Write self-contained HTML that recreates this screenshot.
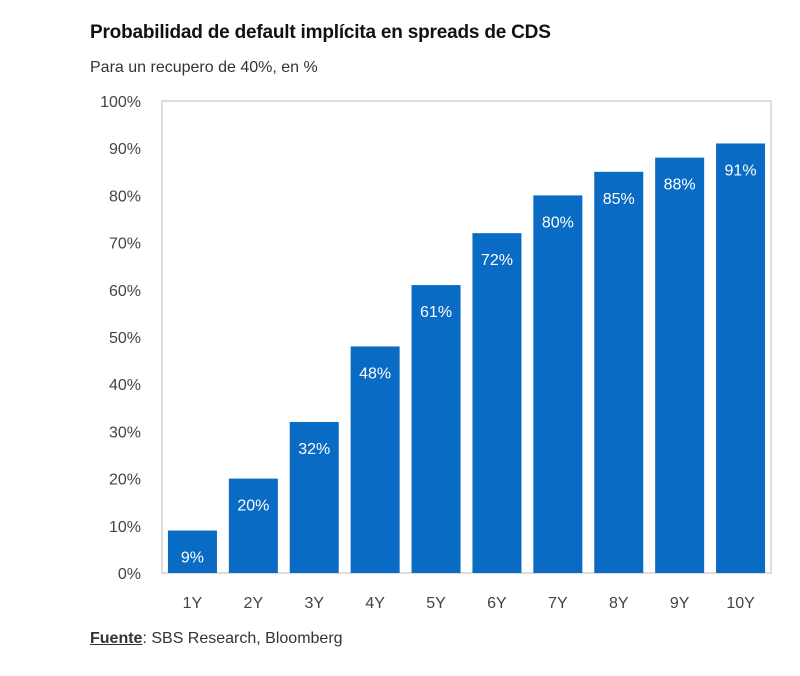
<!DOCTYPE html>
<html><head><meta charset="utf-8"><style>
body{margin:0;background:#fff;font-family:"Liberation Sans",sans-serif;}
#wrap{position:relative;width:800px;height:676px;background:#fff;}
.t{position:absolute;white-space:nowrap;}
</style></head><body>
<div id="wrap">
<div class="t" style="left:90px;top:22px;font-size:19px;font-weight:bold;color:#111;letter-spacing:-0.2px;">Probabilidad de default implícita en spreads de CDS</div>
<div class="t" style="left:90px;top:59px;font-size:16px;color:#333;">Para un recupero de 40%, en %</div>
<svg id="chart" width="800" height="676" style="position:absolute;left:0;top:0"></svg>
<div class="t" style="left:90px;top:630px;font-size:16px;color:#333;"><span style="text-decoration:underline;font-weight:bold;">Fuente</span>: SBS Research, Bloomberg</div>
</div>
<script>
const categories=["1Y","2Y","3Y","4Y","5Y","6Y","7Y","8Y","9Y","10Y"];
const values=[9,20,32,48,61,72,80,85,88,91];
const yTicks=[0,10,20,30,40,50,60,70,80,90,100];
const NS="http://www.w3.org/2000/svg";
const svg=document.getElementById('chart');
const L=162,R=771,T=101,B=573;
const y=v=>B-(v/100)*(B-T);
const step=(R-L)/categories.length, bw=49;
const x=i=>L+i*step+(step-bw)/2;
function mk(t,a){const e=document.createElementNS(NS,t);for(const k in a)e.setAttribute(k,a[k]);svg.appendChild(e);return e;}
const frame=mk('rect',{x:L,y:T,width:R-L,height:B-T,fill:'none',stroke:'#ddd','stroke-width':2});


yTicks.forEach(v=>{const t=mk('text',{x:141,y:y(v)+6,'text-anchor':'end','font-size':16,fill:'#444','font-family':'Liberation Sans, sans-serif'});t.textContent=v+'%';

});
categories.forEach((c,i)=>{
const r=mk('rect',{x:x(i),y:y(values[i]),width:bw,height:B-y(values[i]),fill:'#0a6bc4'});


const lb=mk('text',{x:x(i)+bw/2,y:y(values[i])+32,'text-anchor':'middle','font-size':16,fill:'#fff','font-family':'Liberation Sans, sans-serif'});lb.textContent=values[i]+'%';


const xl=mk('text',{x:x(i)+bw/2,y:608,'text-anchor':'middle','font-size':16,fill:'#444','font-family':'Liberation Sans, sans-serif'});xl.textContent=c;


});
</script>
</body></html>
